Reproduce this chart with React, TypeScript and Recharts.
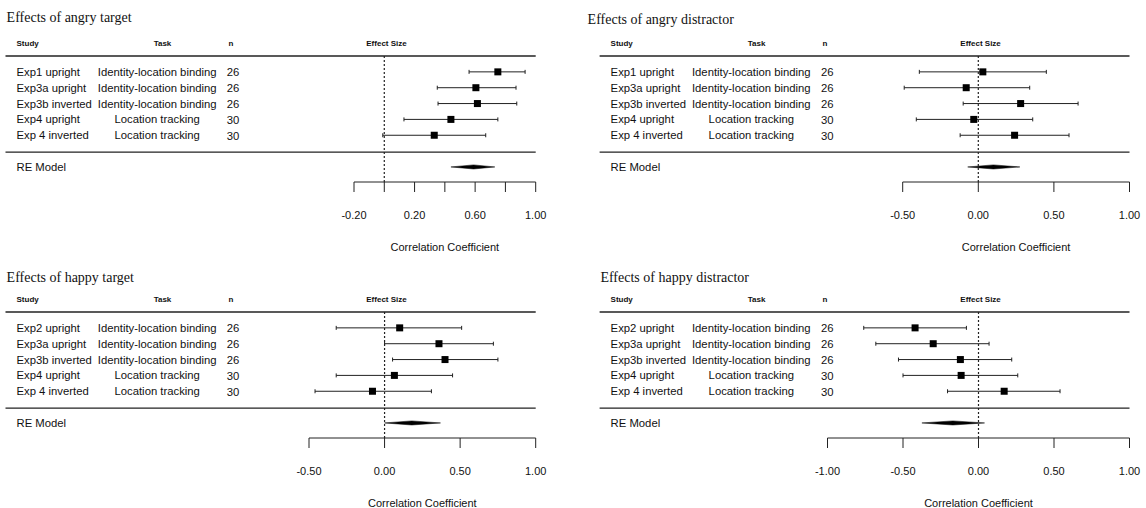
import React from "react";
import { ScatterChart, Scatter, XAxis, YAxis, ErrorBar, ReferenceLine, ReferenceArea } from "recharts";

const targetStudies = ["Exp1 upright", "Exp3a upright", "Exp3b inverted", "Exp4 upright", "Exp 4 inverted"];
const happyStudies = ["Exp2 upright", "Exp3a upright", "Exp3b inverted", "Exp4 upright", "Exp 4 inverted"];
const tasks = [
  "Identity-location binding",
  "Identity-location binding",
  "Identity-location binding",
  "Location tracking",
  "Location tracking",
];
const sampleSizes = [26, 26, 26, 30, 30];

// effect sizes (correlation) with 95% CI
const angryTargetEst = [0.75, 0.605, 0.615, 0.44, 0.33];
const angryTargetLo = [0.56, 0.35, 0.355, 0.13, -0.01];
const angryTargetHi = [0.93, 0.87, 0.875, 0.75, 0.67];
const angryTargetRE = [0.44, 0.59, 0.73];

const angryDistractorEst = [0.03, -0.08, 0.28, -0.03, 0.24];
const angryDistractorLo = [-0.39, -0.49, -0.1, -0.41, -0.12];
const angryDistractorHi = [0.45, 0.34, 0.66, 0.36, 0.6];
const angryDistractorRE = [-0.07, 0.1, 0.275];

const happyTargetEst = [0.1, 0.36, 0.4, 0.065, -0.08];
const happyTargetLo = [-0.32, 0, 0.053, -0.32, -0.46];
const happyTargetHi = [0.51, 0.72, 0.75, 0.45, 0.31];
const happyTargetRE = [0, 0.18, 0.37];

const happyDistractorEst = [-0.42, -0.3, -0.12, -0.115, 0.17];
const happyDistractorLo = [-0.76, -0.68, -0.53, -0.5, -0.205];
const happyDistractorHi = [-0.08, 0.07, 0.22, 0.26, 0.54];
const happyDistractorRE = [-0.375, -0.17, 0.04];

const ticksFine = [-0.2, 0, 0.2, 0.4, 0.6, 0.8, 1];
const labelsFine = [-0.2, 0.2, 0.6, 1];
const ticksHalf = [-0.5, 0, 0.5, 1];
const ticksWide = [-1, -0.5, 0, 0.5, 1];

const HEADER_ROW = -0.83;
const RULE_TOP = 0;
const RULE_BOTTOM = 6.07;
const RE_ROW = 7;
const Y_MIN = -1.2;
const Y_MAX = 7.95;

const SANS = "'Liberation Sans', Arial, Helvetica, sans-serif";
const INK = "#111";

interface PanelProps {
  left: number;
  top: number;
  title: string;
  titleX: number;
  titleY: number;
  studies: string[];
  est: number[];
  lo: number[];
  hi: number[];
  re: number[];
  ticks: number[];
  labels: number[];
  plotLeft: number;
  plotRight: number;
  studyX: number;
}

function ForestPanel(p: PanelProps) {
  const rows = p.studies.map((s, i) => ({
    x: p.est[i],
    y: i + 1,
    err: [p.est[i] - p.lo[i], p.hi[i] - p.est[i]],
  }));
  const domain = [p.ticks[0], p.ticks[p.ticks.length - 1]];
  const rowTicks = [HEADER_ROW, RULE_TOP, 1, 2, 3, 4, 5, RULE_BOTTOM, RE_ROW];

  const renderRowTick = (props: any) => {
    const { y, payload } = props;
    const v = payload.value;
    if (v === HEADER_ROW) {
      return (
        <g fontFamily={SANS} fontSize={8} fontWeight="bold" fill={INK}>
          <text x={p.studyX} y={y} dy="0.35em">Study</text>
          <text x={p.studyX + 146} y={y} dy="0.35em" textAnchor="middle">Task</text>
          <text x={p.studyX + 212} y={y} dy="0.35em">n</text>
          <text x={p.studyX + 370} y={y} dy="0.35em" textAnchor="middle">Effect Size</text>
        </g>
      );
    }
    if (v === RULE_TOP || v === RULE_BOTTOM) {
      return <line x1={p.studyX - 11} x2={p.plotRight} y1={y} y2={y} stroke="#222" strokeWidth={1.3} />;
    }
    if (v === RE_ROW) {
      return (
        <text x={p.studyX} y={y} dy="0.35em" fontFamily={SANS} fontSize={11.3} fill={INK}>
          RE Model
        </text>
      );
    }
    const i = v - 1;
    return (
      <g fontFamily={SANS} fontSize={11.3} fill={INK}>
        <text x={p.studyX} y={y} dy="0.35em">{p.studies[i]}</text>
        <text x={p.studyX + 140.7} y={y} dy="0.35em" textAnchor="middle">{tasks[i]}</text>
        <text x={p.studyX + 210.3} y={y} dy="0.4em">{sampleSizes[i]}</text>
      </g>
    );
  };

  const renderXTick = (props: any) => {
    const { x, y, payload } = props;
    const shown = p.labels.some((l) => Math.abs(l - payload.value) < 1e-9);
    if (!shown) return <g />;
    return (
      <text x={x} y={y + 27} textAnchor="middle" fontFamily={SANS} fontSize={11} fill={INK}>
        {Number(payload.value).toFixed(2)}
      </text>
    );
  };

  const square = (props: any) => (
    <rect x={props.cx - 3.5} y={props.cy - 3.5} width={7} height={7} fill="#000" />
  );

  const [reLo, reEst, reHi] = p.re;
  const diamond = (props: any) => {
    const { x, y, width, height } = props;
    const mid = x + ((reEst - reLo) / (reHi - reLo)) * width;
    const pts = `${x},${y + height / 2} ${mid},${y} ${x + width},${y + height / 2} ${mid},${y + height}`;
    return <polygon points={pts} fill="#000" stroke="#000" strokeWidth={0.5} />;
  };

  return (
    <div style={{ position: "absolute", left: p.left, top: p.top, width: 573, height: 257 }}>
      <ScatterChart width={573} height={257} margin={{ top: 37, right: 573 - p.plotRight, bottom: 0, left: 0 }}>
        <XAxis
          type="number"
          dataKey="x"
          domain={domain}
          ticks={p.ticks}
          allowDataOverflow
          interval={0}
          height={75}
          tickSize={10}
          tickMargin={0}
          stroke="#222"
          tick={renderXTick}
          label={{
            value: "Correlation Coefficient",
            position: "insideBottom",
            offset: 6,
            fill: INK,
            fontSize: 11,
            fontFamily: SANS,
          }}
        />
        <YAxis
          type="number"
          dataKey="y"
          domain={[Y_MIN, Y_MAX]}
          reversed
          allowDataOverflow
          ticks={rowTicks}
          interval={0}
          width={p.plotLeft}
          axisLine={false}
          tickLine={false}
          tick={renderRowTick}
        />
        <ReferenceLine
          segment={[{ x: 0, y: RULE_TOP }, { x: 0, y: Y_MAX }]}
          stroke="#222"
          strokeWidth={1.2}
          strokeDasharray="2 2"
        />
        <ReferenceArea x1={reLo} x2={reHi} y1={RE_ROW - 0.13} y2={RE_ROW + 0.13} shape={diamond} />
        <Scatter data={rows} shape={square} isAnimationActive={false}>
          <ErrorBar dataKey="err" direction="x" width={2} stroke="#222" strokeWidth={1} isAnimationActive={false} />
        </Scatter>
      </ScatterChart>
      <div
        style={{
          position: "absolute",
          left: p.titleX - p.left,
          top: p.titleY - p.top - 8,
          fontFamily: "'Liberation Serif', 'Times New Roman', serif",
          fontSize: 14,
          lineHeight: "16px",
          color: INK,
          whiteSpace: "nowrap",
        }}
      >
        {p.title}
      </div>
    </div>
  );
}

export default function App() {
  return (
    <div
      style={{
        position: "absolute",
        left: 0,
        top: 0,
        width: 1146,
        height: 508,
        overflow: "hidden",
        background: "#fff",
      }}
    >
      <ForestPanel
        left={0}
        top={0}
        title="Effects of angry target"
        titleX={6.6}
        titleY={18.3}
        studies={targetStudies}
        est={angryTargetEst}
        lo={angryTargetLo}
        hi={angryTargetHi}
        re={angryTargetRE}
        ticks={ticksFine}
        labels={labelsFine}
        plotLeft={354}
        plotRight={535.7}
        studyX={16.5}
      />
      <ForestPanel
        left={573}
        top={0}
        title="Effects of angry distractor"
        titleX={587.6}
        titleY={20}
        studies={targetStudies}
        est={angryDistractorEst}
        lo={angryDistractorLo}
        hi={angryDistractorHi}
        re={angryDistractorRE}
        ticks={ticksHalf}
        labels={ticksHalf}
        plotLeft={329.7}
        plotRight={556.5}
        studyX={37.6}
      />
      <ForestPanel
        left={0}
        top={256}
        title="Effects of happy target"
        titleX={6.6}
        titleY={278.3}
        studies={happyStudies}
        est={happyTargetEst}
        lo={happyTargetLo}
        hi={happyTargetHi}
        re={happyTargetRE}
        ticks={ticksHalf}
        labels={ticksHalf}
        plotLeft={309}
        plotRight={535.7}
        studyX={16.5}
      />
      <ForestPanel
        left={573}
        top={256}
        title="Effects of happy distractor"
        titleX={600.4}
        titleY={278.3}
        studies={happyStudies}
        est={happyDistractorEst}
        lo={happyDistractorLo}
        hi={happyDistractorHi}
        re={happyDistractorRE}
        ticks={ticksWide}
        labels={ticksWide}
        plotLeft={254.5}
        plotRight={556.5}
        studyX={37.6}
      />
    </div>
  );
}
